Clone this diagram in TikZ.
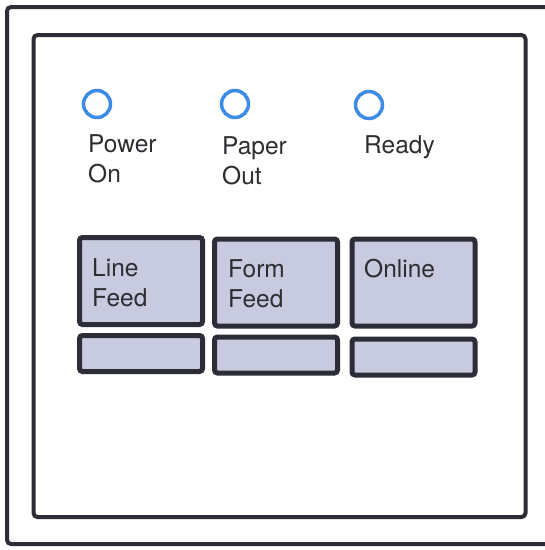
\documentclass[tikz,border=0pt]{standalone}
\usepackage{fontspec}
\setmainfont{TeX Gyre Heros}
\definecolor{frameink}{RGB}{45,45,55}
\definecolor{keyfill}{RGB}{200,202,224}
\definecolor{ledblue}{RGB}{60,140,230}
\definecolor{textink}{RGB}{45,45,50}

\begin{document}
\begin{tikzpicture}[
    x=1pt, y=-1pt,
    panel/.style={draw=frameink, line width=4pt, rounded corners=4pt},
    led/.style={draw=ledblue, circle, line width=3.5pt, minimum size=27pt, inner sep=0pt},
    key/.style={draw=frameink, fill=keyfill, line width=5pt, rounded corners=3pt, inner sep=0pt},
    bigkey/.style={key, minimum width=123pt, minimum height=87pt},
    smallkey/.style={key, minimum width=123pt, minimum height=36pt},
    caption/.style={anchor=base west, inner sep=0pt, align=left, text=textink,
                    font=\fontsize{24.5}{30}\selectfont}
  ]
  \useasboundingbox (0,0) rectangle (545,550);
  % outer casing and inner panel
  \draw[panel] (545,7) -- (7,7) -- (7,544) -- (545,544);
  \draw[panel] (33.5,35) rectangle (525.5,517);
  % status lamps (two-line captions sit on their last baseline)
  \node[led] (power) at (97,104) {};
  \node[led] (paper) at (235,104) {};
  \node[led] (ready) at (369,105) {};
  \node[caption] (powerlbl) at (88,182) {Power\\On};
  \node[caption] (paperlbl) at (222,184) {Paper\\Out};
  \node[caption] (readylbl) at (364,153) {Ready};
  % keys
  \node[bigkey] (linefeed) at (141,281) {};
  \node[bigkey] (formfeed) at (276,282.5) {};
  \node[bigkey] (online) at (413.5,282.5) {};
  \node[smallkey] (linefeedlow) at (141,353.5) {};
  \node[smallkey] (formfeedlow) at (276,355) {};
  \node[smallkey] (onlinelow) at (413.5,357) {};
  \node[caption] (linefeedlbl) at (92,306) {Line\\Feed};
  \node[caption] (formfeedlbl) at (228,307) {Form\\Feed};
  \node[caption] (onlinelbl) at (364,277) {Online};
\end{tikzpicture}
\end{document}
